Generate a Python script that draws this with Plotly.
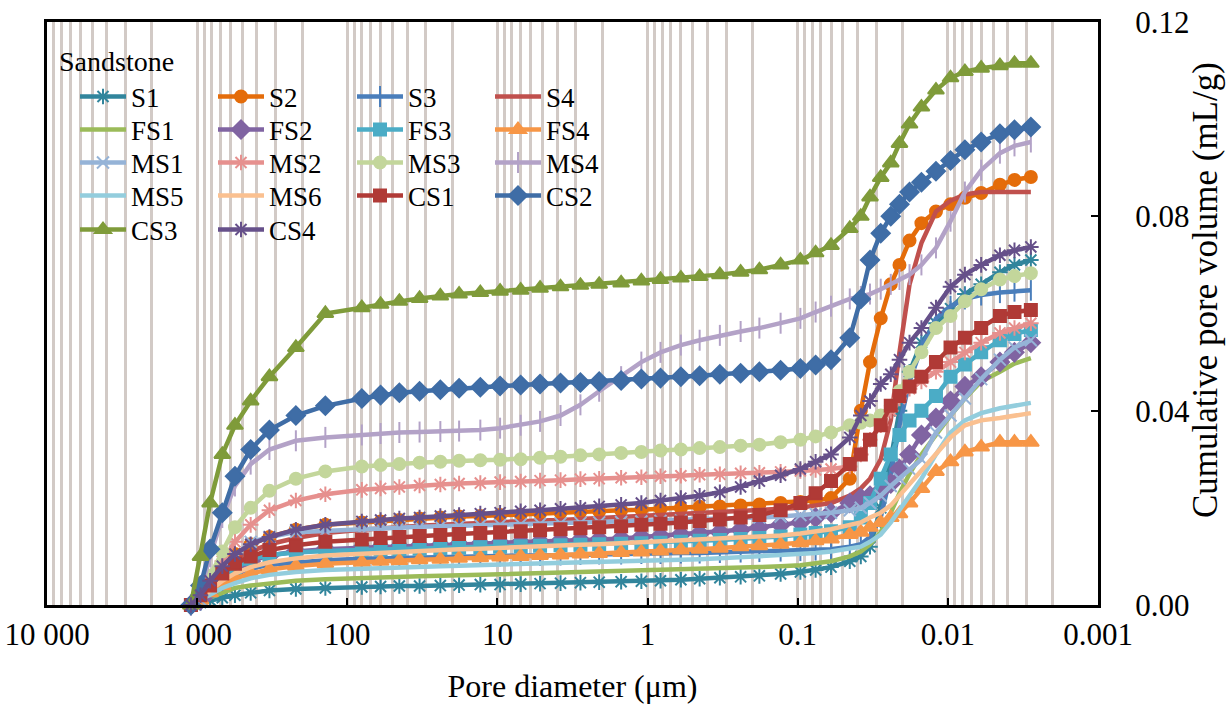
import plotly.graph_objects as go

# pore diameter (um), shared by all samples
diameter = [1100, 950, 820, 680, 560, 440, 330, 220, 140, 80, 60, 45, 33, 24, 18, 13, 9.6, 7, 5.2,
            3.8, 2.8, 2.1, 1.5, 1.1, 0.82, 0.6, 0.45, 0.33, 0.24, 0.18, 0.13, 0.096, 0.076, 0.06,
            0.045, 0.038, 0.033, 0.028, 0.024, 0.021, 0.018, 0.015, 0.012, 0.0096, 0.0077, 0.006,
            0.0045, 0.0036, 0.0028]

# cumulative pore volume (mL/g)
s1 = [0, .0005, .001, .0015, .002, .0025, .003, .0033, .0035,
      .0037, .0038, .0039, .0039, .004, .0041, .0042, .0042, .0043, .0044, .0045, .0046, .0047, .0048,
      .0049, .005, .0052, .0054, .0056, .0058, .006, .0064, .0068, .0072, .0078,
      .009, .010, .012, .020, .030, .040, .048, .054, .058, .061, .064, .066, .0685, .070, .071]
s2 = [0, .002, .005, .008, .0105, .0125, .014, .0155, .0165,
      .017, .0172, .0175, .0178, .018, .0182, .0183, .0185, .0186, .0188, .019, .0192, .0193, .0195,
      .0196, .0198, .020, .0202, .0203, .0205, .0207, .021, .0212, .0215, .022,
      .026, .040, .050, .059, .066, .070, .075, .0786, .081, .0825, .0838, .0848, .0865, .0875, .0881]
s3 = [0, .001, .003, .005, .0065, .0075, .0083, .0088, .0092,
      .0095, .0096, .0097, .0098, .0099, .0099, .010, .0101, .0102, .0102, .0103, .0104, .0105, .0105,
      .0106, .0106, .0107, .0107, .0108, .0109, .011, .0111, .0112, .0113, .0115,
      .012, .0125, .014, .018, .027, .037, .046, .053, .059, .0615, .063, .0638, .0643, .0646, .0648]
s4 = [0, .002, .004, .0065, .009, .011, .0125, .0138, .0148,
      .0155, .0158, .016, .0163, .0165, .0167, .0168, .017, .0172, .0174, .0175, .0177, .0178, .018,
      .0182, .0184, .0186, .0188, .019, .0192, .0195, .0197, .020, .0205, .021,
      .0225, .024, .026, .030, .038, .052, .066, .0745, .081, .0832, .0845, .085, .085, .085, .085]
fs1 = [0, .0005, .0015, .0025, .0035, .004, .0045, .005, .0053,
       .0056, .0057, .0058, .0059, .006, .0061, .0062, .0063, .0064, .0065, .0066, .0067, .0068, .0069,
       .007, .0071, .0072, .0073, .0075, .0076, .0078, .008, .0082, .0086, .009,
       .010, .011, .0125, .015, .019, .023, .027, .031, .035, .039, .0425, .046, .048, .0497, .0508]
fs2 = [0, .001, .003, .005, .007, .009, .0102, .011, .0115,
       .0118, .0119, .012, .0122, .0123, .0125, .0126, .0128, .0129, .013, .0132, .0134, .0135, .0137,
       .014, .0142, .0145, .0147, .015, .0155, .016, .0165, .017, .018, .019,
       .021, .022, .0225, .0235, .025, .028, .031, .035, .0385, .042, .045, .047, .050, .052, .054]
fs3 = [0, .001, .003, .005, .0075, .0095, .0103, .0108, .0111,
       .0113, .0114, .0115, .0116, .0117, .0118, .0119, .012, .0121, .0122, .0123, .0124, .0125, .0126,
       .0127, .0128, .013, .0132, .0134, .0136, .0138, .0141, .0145, .0148, .0152,
       .016, .018, .021, .026, .031, .035, .038, .040, .043, .047, .0495, .052, .0545, .0558, .0566]
fs4 = [0, .001, .0025, .004, .0055, .0065, .0073, .008, .0085,
       .0088, .009, .0091, .0093, .0094, .0096, .0097, .0099, .010, .0102, .0103, .0105, .0106, .0108,
       .0109, .0111, .0113, .0115, .0117, .012, .0122, .0125, .0128, .0132, .0136,
       .0145, .015, .016, .017, .018, .0188, .021, .024, .0275, .0295, .0315, .0325, .0335, .0335, .0335]
ms1 = [0, .001, .004, .007, .010, .013, .014, .015, .0153,
       .0156, .0158, .016, .0161, .0162, .0163, .0164, .0165, .0166, .0167, .0168, .0169, .017, .0171,
       .0172, .0173, .0174, .0175, .0176, .0178, .018, .0182, .0185, .0187, .019,
       .0195, .020, .021, .0225, .0245, .026, .028, .030, .0355, .039, .0425, .0465, .0505, .053, .0545]
ms2 = [0, .002, .005, .009, .013, .0165, .0195, .0215, .0228,
       .0237, .024, .0243, .0246, .0248, .025, .0251, .0253, .0254, .0256, .0257, .0259, .026, .0262,
       .0263, .0265, .0266, .0268, .0269, .0271, .0272, .0274, .0276, .0278, .028,
       .0285, .031, .034, .037, .040, .0425, .0445, .046, .048, .050, .052, .054, .056, .057, .058]
ms3 = [0, .002, .006, .011, .016, .020, .0235, .026, .0275,
       .0285, .0288, .029, .0293, .0295, .0297, .0298, .0299, .030, .0303, .0305, .0308, .031, .0313,
       .0315, .0318, .032, .0323, .0325, .0328, .033, .0335, .034, .0347, .0355,
       .037, .0375, .038, .039, .041, .044, .048, .052, .057, .0595, .0625, .065, .067, .0677, .0683]
ms4 = [0, .003, .010, .018, .0245, .029, .032, .0338, .0345,
       .035, .0353, .0355, .0356, .0357, .0358, .036, .0364, .037, .0378, .039, .0412, .044, .047,
       .050, .052, .0535, .0545, .0555, .0563, .057, .058, .059, .0603, .0615,
       .063, .0635, .064, .065, .066, .067, .068, .070, .0735, .079, .085, .0895, .093, .0945, .0953]
ms5 = [0, .001, .002, .0035, .0045, .0055, .0062, .0068, .0072,
       .0075, .0077, .0078, .0079, .008, .0081, .0082, .0083, .0084, .0085, .0086, .0087, .0088, .0089,
       .009, .0091, .0093, .0094, .0096, .0098, .010, .0102, .0105, .0107, .011,
       .0115, .012, .013, .0145, .017, .0195, .0225, .026, .031, .0355, .038, .0395, .0405, .041, .0416]
ms6 = [0, .001, .003, .005, .0065, .0078, .0088, .0096, .0102,
       .0106, .0108, .011, .0112, .0113, .0115, .0116, .0118, .0119, .0121, .0122, .0124, .0125, .0127,
       .0128, .013, .0132, .0134, .0136, .0138, .014, .0143, .0147, .0151, .0156,
       .0165, .017, .018, .019, .0205, .0225, .025, .0275, .031, .0345, .037, .038, .0385, .039, .0395]
cs1 = [0, .002, .004, .0065, .0085, .010, .0113, .0123, .013,
       .0135, .0138, .014, .0142, .0144, .0146, .0148, .015, .0152, .0154, .0156, .0158, .016, .0162,
       .0165, .0167, .017, .0173, .0176, .018, .0185, .0195, .021, .023, .0255,
       .029, .031, .034, .037, .041, .043, .045, .047, .050, .053, .055, .057, .0595, .0603, .0607]
cs2 = [0, .004, .0115, .019, .0265, .032, .036, .039, .041,
       .0425, .0432, .0437, .044, .0443, .0446, .0448, .0451, .0453, .0455, .0457, .0458, .046, .0462,
       .0465, .0467, .047, .0472, .0475, .0477, .048, .0483, .0487, .0494, .0505,
       .055, .063, .071, .0765, .080, .0825, .085, .087, .0893, .0915, .0937, .0953, .097, .0978, .0984]
cs3 = [0, .010, .021, .031, .037, .042, .047, .053, .060,
       .0612, .0619, .0625, .0631, .0636, .064, .0643, .0646, .0648, .0652, .0655, .0658, .066, .0663,
       .0667, .067, .0673, .0676, .068, .0685, .069, .070, .071, .0725, .074,
       .0775, .080, .084, .088, .091, .095, .099, .1025, .106, .1085, .1098, .1105, .111, .1115, .1115]
cs4 = [0, .002, .005, .008, .0105, .0125, .014, .0155, .0165,
       .0172, .0175, .0178, .018, .0183, .0185, .0188, .019, .0193, .0195, .0198, .020, .0203, .0206,
       .021, .0215, .022, .0225, .0232, .0243, .0255, .0267, .028, .0295, .031,
       .0345, .039, .042, .0455, .0475, .0505, .054, .057, .0612, .0655, .068, .070, .072, .073, .0737]

tick_vals = [10000, 1000, 100, 10, 1, 0.1, 0.01, 0.001]
tick_text = ["10 000", "1 000", "100", "10", "1", "0.1", "0.01", "0.001"]

# name, data, colour, marker symbol, marker size
samples = [
    ("S1", s1, "#31859C", "asterisk-open", 13),
    ("S2", s2, "#E46C0A", "circle", 12),
    ("S3", s3, "#4A7EBB", "line-ns-open", 15),
    ("S4", s4, "#C0504D", None, 0),
    ("FS1", fs1, "#9BBB59", None, 0),
    ("FS2", fs2, "#8064A2", "diamond", 14),
    ("FS3", fs3, "#4BACC6", "square", 12),
    ("FS4", fs4, "#F79646", "triangle-up", 14),
    ("MS1", ms1, "#95B3D7", "x-thin-open", 12),
    ("MS2", ms2, "#E6908E", "asterisk-open", 13),
    ("MS3", ms3, "#C3D69B", "circle", 12),
    ("MS4", ms4, "#B3A2C7", "line-ns-open", 15),
    ("MS5", ms5, "#93CDDD", None, 0),
    ("MS6", ms6, "#FAC090", None, 0),
    ("CS1", cs1, "#B03A36", "square", 12),
    ("CS2", cs2, "#3F6DA6", "diamond", 14),
    ("CS3", cs3, "#7F9B3A", "triangle-up", 14),
    ("CS4", cs4, "#66508A", "asterisk-open", 13),
]

serif = "Liberation Serif"
col_px = [75, 213, 352, 490]      # left edge of each legend column
row_px = [97, 130, 163, 196, 230]  # centre of each legend row

fig = go.Figure()
legends = {}
for i, (name, vals, color, symbol, size) in enumerate(samples):
    lid = "legend" if i == 0 else "legend%d" % (i + 1)
    if symbol:
        mode = "lines+markers"
        marker = dict(symbol=symbol, size=size, color=color,
                      line=dict(color=color, width=2))
    else:
        mode = "lines"
        marker = None
    fig.add_trace(go.Scatter(
        x=diameter, y=vals, name=name, mode=mode,
        line=dict(color=color, width=4.5),
        marker=marker, cliponaxis=False, legend=lid,
    ))
    legends[lid] = dict(
        x=(col_px[i % 4] - 47) / 1051, y=(605 - row_px[i // 4]) / 583,
        xanchor="left", yanchor="middle",
        bgcolor="rgba(0,0,0,0)", borderwidth=0,
        font=dict(family=serif, size=27, color="black"),
        itemwidth=46,
    )

fig.update_layout(
    width=1227, height=705,
    margin=dict(l=47, r=129, t=22, b=100),
    paper_bgcolor="white", plot_bgcolor="white",
    font=dict(family=serif, size=30, color="black"),
    showlegend=True,
    **legends,
    xaxis=dict(
        type="log", range=[4, -3], automargin=False,
        tickvals=tick_vals, ticktext=tick_text,
        tickfont=dict(family=serif, size=31),
        ticks="inside", ticklen=7, tickwidth=2, tickcolor="black",
        showline=True, linecolor="black", linewidth=3, mirror=True,
        showgrid=True, gridcolor="#D2CAC6", gridwidth=3,
        minor=dict(dtick="D1", showgrid=True, gridcolor="#D2CAC6", gridwidth=3),
        title=dict(text="Pore diameter (\u03bcm)", font=dict(family=serif, size=32), standoff=24),
        zeroline=False,
    ),
    yaxis=dict(
        side="right", range=[0, 0.12], automargin=False,
        tickvals=[0, 0.04, 0.08, 0.12], tickformat=".2f",
        tickfont=dict(family=serif, size=31),
        ticks="inside", ticklen=7, tickwidth=2, tickcolor="black",
        ticklabelstandoff=28,
        showline=True, linecolor="black", linewidth=3, mirror=True,
        showgrid=False, zeroline=False,
    ),
    annotations=[
        dict(text="Sandstone", x=(57 - 47) / 1051, y=(605 - 62) / 583,
             xref="paper", yref="paper", xanchor="left", yanchor="middle",
             showarrow=False, font=dict(family=serif, size=28, color="black")),
        dict(text="Cumulative pore volume (mL/g)", textangle=-90,
             x=(1205 - 47) / 1051, y=(605 - 290) / 583,
             xref="paper", yref="paper", xanchor="center", yanchor="middle",
             showarrow=False, font=dict(family=serif, size=35, color="black")),
    ],
)

fig.write_html("out.html", config={"displayModeBar": False},
               post_script="document.body.style.margin='0';")
